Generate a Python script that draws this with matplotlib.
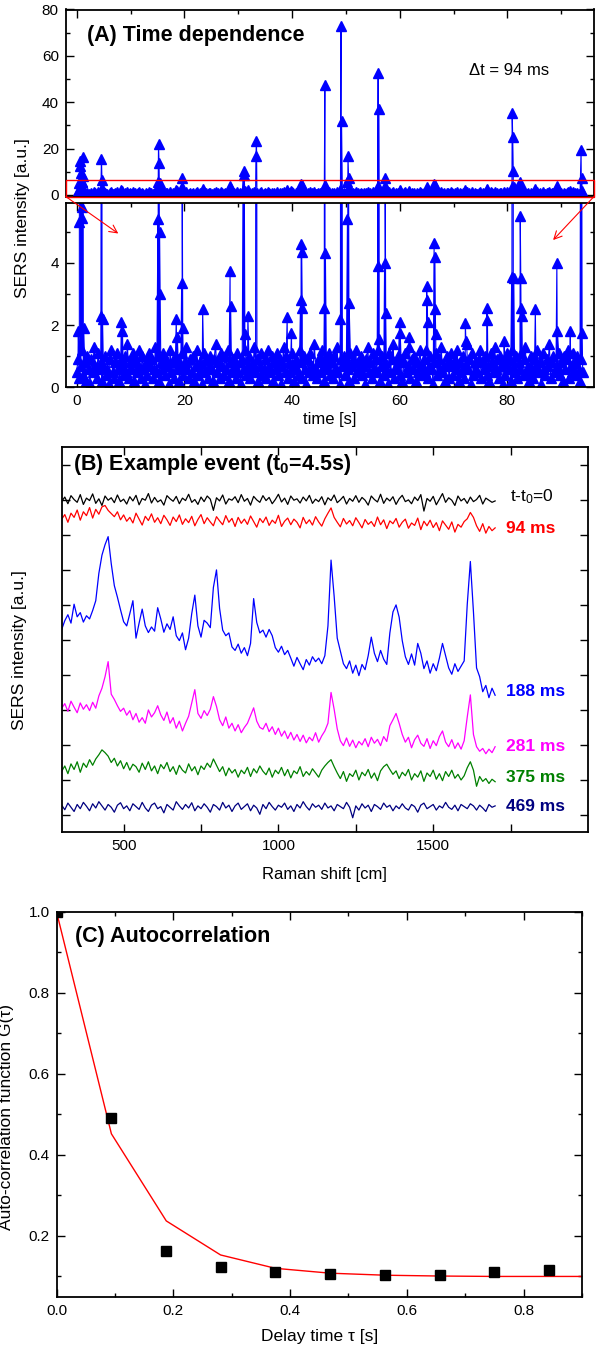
import numpy as np
import matplotlib
matplotlib.use("Agg")
import matplotlib.pyplot as plt
from matplotlib.ticker import MultipleLocator, NullFormatter, FixedLocator
from matplotlib.patches import Rectangle, ConnectionPatch

plt.rcParams['font.family'] = ['Liberation Sans', 'DejaVu Sans']
plt.rcParams['mathtext.fontset'] = 'custom'
plt.rcParams['mathtext.rm'] = 'Liberation Sans'
plt.rcParams['mathtext.bf'] = 'Liberation Sans:bold'
plt.rcParams['mathtext.it'] = 'Liberation Sans:italic'
plt.rcParams['mathtext.default'] = 'regular'

# ---- (A) time trace: baseline intensities (x0.1 a.u.) on a regular grid over 0..94 s
base_tenths = [
    5, 9, 3, 7, 12, 4, 8, 2, 10, 6, 1, 9, 5, 13, 7, 3, 11, 6, 8, 2,
    7, 10, 4, 6, 1, 9, 12, 5, 3, 8, 11, 6, 2, 9, 7, 4, 10, 5, 14, 3,
    8, 6, 11, 2, 9, 5, 7, 12, 3, 10, 6, 1, 8, 4, 11, 7, 9, 3, 6, 13,
    5, 10, 2, 8, 6, 11, 4, 9, 7, 1, 12, 5, 8, 3, 10, 6, 9, 2, 7, 11,
    4, 8, 13, 6, 3, 9, 5, 10, 2, 7, 12, 4, 8, 6, 1, 11, 5, 9, 3, 7,
    10, 6, 2, 9, 14, 5, 8, 3, 11, 7, 4, 10, 6, 12, 2, 8, 5, 9, 7, 3,
    11, 5, 8, 1, 9, 6, 12, 4, 7, 10, 3, 8, 6, 13, 5, 9, 2, 7, 11, 4,
    6, 9, 3, 12, 7, 5, 10, 2, 8, 6, 11, 4, 9, 1, 7, 13, 5, 10, 3, 8,
    5, 11, 7, 2, 9, 6, 4, 12, 8, 3, 10, 6, 1, 9, 5, 11, 7, 4, 14, 6,
    3, 8, 10, 5, 12, 2, 7, 9, 6, 11, 4, 8, 3, 10, 6, 13, 5, 1, 9, 7,
    10, 4, 8, 6, 2, 11, 7, 9, 3, 12, 5, 8, 6, 10, 4, 7, 1, 9, 13, 5,
    8, 3, 11, 6, 9, 5, 12, 2, 7, 10, 4, 8, 6, 1, 11, 5, 9, 14, 3, 7,
    6, 10, 4, 9, 2, 8, 11, 5, 7, 13, 3, 9, 6, 10, 2, 8, 5, 12, 7, 4,
    9, 5, 12, 3, 7, 10, 6, 1, 8, 11, 4, 9, 6, 13, 5, 7, 2, 10, 8, 3,
    11, 7, 4, 9, 6, 12, 2, 8, 5, 10, 3, 7, 14, 6, 9, 1, 11, 4, 8, 6,
    5, 9, 12, 3, 8, 6, 10, 4, 7, 2, 11, 8, 5, 13, 6, 9, 3, 10, 7, 1,
    8, 4, 11, 6, 9, 2, 12, 7, 5, 10, 3, 8, 6, 11, 4, 9, 13, 5, 7, 2,
    10, 6, 3, 9, 7, 12, 5, 8, 1, 11, 6, 4, 9, 7, 14, 3, 8, 10, 5, 6,
    7, 11, 4, 8, 2, 10, 6, 9, 12, 3, 7, 5, 11, 8, 4, 10, 6, 2, 9, 5,
]
# bright events (time [s], intensity [a.u.])
event_t = [0.3, 0.5, 0.6, 0.7, 0.8, 0.9, 1.0, 1.1, 1.2, 1.3,
           4.5, 4.6, 4.7, 4.8, 8.3, 8.5,
           15.1, 15.2, 15.3, 15.4, 15.5, 18.5, 18.7, 19.5, 19.6, 19.7, 23.4,
           28.5, 28.6, 31.0, 31.1, 31.3, 31.8, 33.3, 33.4, 39.1, 39.9,
           41.6, 41.7, 41.8, 41.9, 46.0, 46.1, 46.2, 49.0, 49.1, 49.2,
           50.3, 50.4, 50.5, 50.6, 55.9, 56.0, 56.1, 56.2, 57.2, 57.3, 57.4,
           60.0, 60.1, 61.8, 65.0, 65.1, 65.2, 66.4, 66.5, 66.6, 66.7,
           72.2, 72.3, 76.2, 76.3, 79.4, 80.8, 80.9, 81.0, 81.1, 81.2,
           82.4, 82.5, 82.6, 82.7, 85.2, 89.2, 89.3, 91.7, 93.7, 93.8, 93.9]
event_I = [1.8, 5.3, 14.5, 12.5, 9.5, 5.8, 5.45, 16.5, 8.0, 1.9,
           2.3, 15.7, 6.5, 2.2, 2.1, 1.8,
           5.4, 22.0, 13.7, 5.0, 3.0, 2.2, 1.6, 3.35, 7.3, 1.9, 2.5,
           3.75, 2.6, 10.5, 8.5, 1.7, 2.3, 17.0, 23.5, 2.25, 1.75,
           2.8, 4.6, 4.35, 2.55, 2.55, 47.5, 4.3, 2.2, 73.0, 32.0,
           5.4, 16.8, 7.5, 2.7, 3.9, 52.5, 37.0, 1.55, 4.0, 7.5, 2.4,
           2.1, 1.75, 1.6, 3.25, 2.8, 2.1, 4.65, 4.2, 2.5, 1.7,
           2.05, 1.5, 2.55, 2.15, 1.5, 3.55, 35.5, 25.0, 10.4, 3.5,
           5.5, 3.5, 2.55, 2.3, 2.5, 4.0, 1.8, 1.8, 19.5, 7.5, 1.75]

# ---- (B) spectra, Raman shift 300..1700 cm, offset intensities (a.u.)
spec_black = [
    896, 908, 889, 912, 901, 893, 915, 887, 905, 898, 917, 890, 903, 884, 911, 899, 906, 892, 914, 895,
    902, 888, 909, 897, 913, 886, 904, 899, 918, 891, 907, 894, 900, 885, 912, 903, 896, 910, 889, 905,
    898, 916, 893, 901, 887, 908, 895, 911, 902, 870, 906, 897, 914, 888, 903, 899, 909, 892, 915, 896,
    904, 885, 910, 900, 893, 912, 898, 907, 889, 901, 916, 894, 905, 887, 911, 899, 903, 891, 908, 897,
    913, 890, 902, 895, 909, 886, 906, 898, 914, 892, 900, 910, 888, 904, 896, 912, 893, 907, 899, 885,
    911, 901, 894, 916, 890, 905, 897, 909, 887, 903, 913, 895, 900, 889, 908, 898, 915, 868, 904, 896,
    910, 886, 902, 918, 893, 906, 899, 884, 911, 897, 904, 890, 908, 895, 901, 913, 888, 905, 899, 893, 897,
]
spec_red = [
    845, 858, 836, 862, 850, 871, 842, 866, 855, 878, 848, 873, 859, 880, 884, 870, 861, 852, 866, 843,
    857, 839, 850, 834, 862, 845, 828, 853, 841, 860, 836, 849, 832, 856, 843, 827, 851, 838, 857, 830,
    846, 835, 853, 826, 844, 858, 832, 849, 837, 826, 852, 840, 829, 855, 836, 847, 824, 850, 833, 845,
    830, 854, 838, 822, 847, 835, 851, 827, 842, 833, 856, 824, 839, 848, 829, 845, 836, 820, 850, 832,
    843, 828, 852, 837, 825, 846, 862, 877, 850, 836, 823, 847, 831, 841, 826, 849, 835, 820, 844, 830,
    838, 824, 851, 829, 843, 818, 840, 832, 847, 822, 836, 845, 819, 834, 827, 848, 815, 839, 826, 842,
    821, 835, 812, 840, 828, 816, 837, 808, 830, 822, 838, 846, 864, 850, 826, 810, 832, 805, 824, 812, 820,
]
spec_blue = [
    530, 555, 572, 548, 602, 566, 578, 551, 569, 560, 584, 612, 690, 742, 772, 795, 718, 655, 622, 586,
    552, 540, 575, 612, 505, 548, 588, 540, 521, 537, 525, 592, 560, 522, 546, 530, 566, 512, 498, 520,
    472, 505, 575, 628, 540, 508, 556, 548, 535, 650, 700, 590, 528, 512, 520, 480, 470, 488, 462, 478,
    455, 490, 618, 550, 520, 528, 508, 530, 512, 478, 465, 482, 458, 470, 448, 425, 450, 432, 415, 444,
    428, 452, 438, 448, 432, 455, 540, 728, 625, 505, 468, 432, 418, 440, 405, 428, 398, 430, 415, 455,
    508, 462, 438, 470, 445, 430, 520, 580, 600, 565, 498, 452, 430, 460, 428, 490, 462, 418, 440, 405,
    432, 412, 448, 490, 455, 420, 402, 432, 410, 425, 440, 602, 724, 580, 420, 395, 352, 370, 335, 362, 342,
]
spec_magenta = [
    305, 318, 296, 325, 308, 292, 320, 302, 315, 298, 322, 305, 340, 362, 395, 438, 345, 330, 312, 296,
    305, 285, 298, 272, 290, 265, 278, 262, 300, 280, 292, 312, 286, 270, 294, 262, 278, 248, 268, 240,
    262, 282, 320, 358, 290, 276, 298, 284, 302, 338, 310, 272, 255, 280, 248, 262, 240, 258, 235, 250,
    262, 284, 306, 268, 250, 245, 262, 238, 252, 230, 248, 225, 240, 218, 236, 214, 230, 210, 228, 206,
    222, 212, 235, 208, 226, 240, 262, 350, 302, 246, 212, 198, 220, 196, 214, 192, 210, 200, 218, 195,
    222, 205, 216, 198, 224, 210, 255, 272, 290, 262, 230, 208, 222, 192, 215, 228, 205, 196, 218, 190,
    212, 198, 224, 240, 208, 195, 215, 190, 206, 188, 212, 280, 343, 230, 195, 182, 190, 175, 188, 178, 195,
]
spec_green = [
    125, 140, 118, 146, 130, 152, 122, 148, 136, 158, 142, 160, 172, 186, 178, 168, 150, 162, 140, 155,
    132, 150, 128, 145, 138, 122, 148, 130, 152, 126, 140, 118, 144, 132, 150, 124, 138, 116, 142, 128,
    120, 146, 126, 138, 115, 140, 130, 148, 136, 160, 142, 124, 138, 112, 134, 120, 130, 108, 128, 118,
    136, 110, 132, 120, 140, 125, 115, 134, 108, 128, 118, 136, 112, 130, 106, 126, 118, 138, 110, 124,
    114, 132, 120, 108, 128, 140, 150, 158, 138, 120, 104, 124, 96, 118, 110, 128, 100, 122, 112, 130,
    105, 120, 98, 126, 138, 145, 130, 116, 126, 104, 122, 112, 130, 100, 118, 108, 126, 96, 120, 110,
    128, 102, 118, 98, 124, 110, 128, 105, 116, 100, 112, 135, 152, 128, 82, 110, 96, 104, 90, 102, 95,
]
spec_navy = [
    28, 15, 34, 22, 10, 30, 18, 36, 25, 12, 32, 20, 38, 26, 14, 30, 22, 8, 28, 35,
    18, 26, 12, 32, 24, 16, 36, 20, 10, 28, 34, 18, 24, 6, 30, 22, 14, 38, 26, 16,
    30, 20, 35, 12, 26, 18, 32, 22, 8, 30, 24, 14, 36, 20, 28, 10, 26, 34, 16, 24,
    32, 12, 28, 20, 2, 30, 18, 36, 24, 14, 28, 22, 34, 16, 26, 10, 30, 20, 38, 24,
    14, 32, 22, 28, 16, 34, 20, 26, 12, 30, 24, 18, 36, 22, -8, 26, 14, 32, 20, 28,
    10, 30, 24, 16, 34, 22, 28, 12, 26, 18, 32, 20, 14, 30, 24, 8, 28, 34, 18, 24,
    30, 14, 26, 20, 36, 22, 16, 28, 12, 30, 24, 18, 32, 26, 14, 28, 20, 10, 30, 22, 26,
]
spec_labels = ['t-t$_0$=0', '94 ms', '188 ms', '281 ms', '375 ms', '469 ms']
spec_label_y = [909, 819, 352, 197, 108, 24]

# ---- (C) autocorrelation
tau = [0.0, 0.094, 0.188, 0.281, 0.375, 0.469, 0.563, 0.656, 0.750, 0.844]
G = [1.0, 0.492, 0.163, 0.123, 0.111, 0.105, 0.103, 0.104, 0.111, 0.117]
fit_tau = [0.0, 0.094, 0.188, 0.281, 0.375, 0.469, 0.563, 0.656, 0.750, 0.844, 0.938]
fit_G = [1.0, 0.452, 0.237, 0.153, 0.120, 0.108, 0.103, 0.101, 0.100, 0.100, 0.100]

W, H = 609, 1355
fig = plt.figure(figsize=(W / 100, H / 100), dpi=100)


def ax_px(left, top, right, bottom):
    return fig.add_axes([left / W, 1 - bottom / H, (right - left) / W, (bottom - top) / H])


def style(ax):
    ax.tick_params(which='both', direction='in', top=True, right=True, labelsize=11, pad=5)
    ax.tick_params(which='major', length=5.5, width=1)
    ax.tick_params(which='minor', length=3, width=1)
    for s in ax.spines.values():
        s.set_linewidth(1.3)


blue = '#0000ff'
t_base = np.linspace(0, 94, len(base_tenths))
t_all = np.concatenate([t_base, event_t])
I_all = np.concatenate([np.array(base_tenths) / 10.0, event_I])
order = np.argsort(t_all, kind='stable')
t_all, I_all = t_all[order], I_all[order]

axA1 = ax_px(65.7, 9.5, 594, 196.5)
axA2 = ax_px(65.7, 202.7, 594, 387.3)
for ax in (axA1, axA2):
    ax.plot(t_all, I_all, color=blue, lw=0.8, marker='^', ms=7, mec=blue, mfc=blue)
    ax.set_xlim(-2.04, 96.1)
    ax.xaxis.set_major_locator(MultipleLocator(20))
    ax.xaxis.set_minor_locator(MultipleLocator(10))
    style(ax)
axA1.set_ylim(-0.65, 80)
axA1.yaxis.set_major_locator(MultipleLocator(20))
axA1.yaxis.set_minor_locator(MultipleLocator(10))
axA1.xaxis.set_major_formatter(NullFormatter())
axA2.set_ylim(0, 5.93)
axA2.yaxis.set_major_locator(MultipleLocator(2))
axA2.yaxis.set_minor_locator(MultipleLocator(1))
axA2.set_xlabel('time [s]', fontsize=12, labelpad=3)

axA1.add_patch(Rectangle((-2.04, -0.65), 98.14, 7.1, fill=False, ec='red', lw=1.0,
                         zorder=5, clip_on=False))
for xa, xb, yb in [(-2.04, 7.73, 4.94), (96.1, 88.5, 4.73)]:
    cp = ConnectionPatch(xyA=(xa, -0.65), coordsA=axA1.transData,
                         xyB=(xb, yb), coordsB=axA2.transData,
                         arrowstyle='->', color='red', lw=0.8, mutation_scale=14)
    fig.add_artist(cp)
axA1.text(2.0, 69, '(A) Time dependence', fontsize=15.5, fontweight='bold', va='center')
axA1.text(72.9, 53.5, '\u0394t = 94 ms', fontsize=12, va='center')
fig.text(23 / W, 1 - 218 / H, 'SERS intensity [a.u.]', rotation=90, fontsize=12.5,
         ha='center', va='center')

# ---- (B)
axB = ax_px(61.7, 447, 588, 832)
spectra = [spec_black, spec_red, spec_blue, spec_magenta, spec_green, spec_navy]
colors = ['black', '#ff0000', '#0000ff', '#ff00ff', '#008000', '#000080']
for ys, c, lab, ly in zip(spectra, colors, spec_labels, spec_label_y):
    xs = np.linspace(300, 1700, len(ys))
    axB.plot(xs, ys, color=c, lw=0.9)
    if lab.startswith('t'):
        axB.text(1748, ly, lab, color=c, fontsize=12.5, va='center')
    else:
        axB.text(1735, ly, lab, color=c, fontsize=12.5, fontweight='bold', va='center')
axB.set_xlim(300, 2000)
axB.set_ylim(-48.6, 1051)
axB.xaxis.set_major_locator(FixedLocator([500, 1000, 1500]))
axB.xaxis.set_minor_locator(FixedLocator([750, 1250, 1750]))
axB.yaxis.set_major_locator(MultipleLocator(100))
axB.yaxis.set_major_formatter(NullFormatter())
style(axB)
axB.tick_params(which='minor', length=5.5)
axB.set_xlabel('Raman shift [cm]', fontsize=12, labelpad=10)
axB.text(335, 1000, r'(B) Example event (t$_\mathbf{0}$=4.5s)', fontsize=15.5,
         fontweight='bold', va='center')
fig.text(20 / W, 1 - 650 / H, 'SERS intensity [a.u.]', rotation=90, fontsize=12.5,
         ha='center', va='center')

# ---- (C)
axC = ax_px(56.5, 911.7, 582, 1296.7)
axC.plot(fit_tau, fit_G, color='red', lw=1.0)
axC.plot(tau, G, ls='none', marker='s', ms=6.5, color='black')
axC.set_xlim(0, 0.9)
axC.set_ylim(0.05, 1.0)
axC.xaxis.set_major_locator(MultipleLocator(0.2))
axC.xaxis.set_minor_locator(MultipleLocator(0.1))
axC.yaxis.set_major_locator(MultipleLocator(0.2))
axC.yaxis.set_minor_locator(MultipleLocator(0.1))
style(axC)
axC.set_xlabel('Delay time \u03c4 [s]', fontsize=12.5, labelpad=8)
axC.text(0.031, 0.94, '(C) Autocorrelation', fontsize=15.5, fontweight='bold', va='center')
fig.text(7 / W, 1 - 1117 / H, 'Auto-correlation function G(\u03c4)', rotation=90,
         fontsize=12.5, ha='center', va='center')

fig.savefig('out.png', dpi=100)
